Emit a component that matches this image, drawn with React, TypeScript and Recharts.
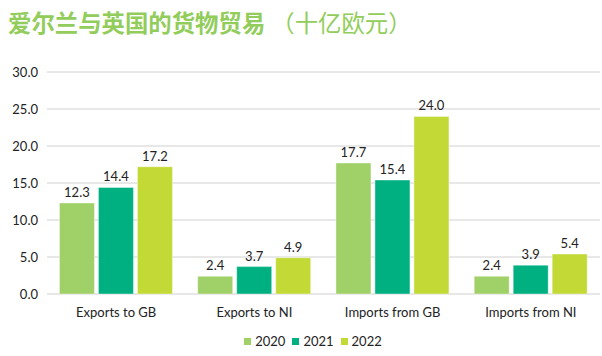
import React from "react";
import { BarChart, Bar, XAxis, YAxis, CartesianGrid, Legend, LabelList } from "recharts";

const categories = ["Exports to GB", "Exports to NI", "Imports from GB", "Imports from NI"];
const values2020 = [12.3, 2.4, 17.7, 2.4];
const values2021 = [14.4, 3.7, 15.4, 3.9];
const values2022 = [17.2, 4.9, 24.0, 5.4];
const yTicks = [0, 5, 10, 15, 20, 25, 30];
const seriesNames = ["2020", "2021", "2022"];
const colors = ["#A0D068", "#00B080", "#C3D936"];

const data = categories.map((c, i) => ({
  name: c,
  "2020": values2020[i],
  "2021": values2021[i],
  "2022": values2022[i],
}));

const font = "Lato, 'Open Sans', sans-serif";

function LegendContent() {
  return (
    <div style={{ display: "flex", justifyContent: "center", paddingTop: 5, paddingLeft: 26, fontFamily: font, fontSize: 13, color: "#222" }}>
      {seriesNames.map((s, i) => (
        <div key={s} style={{ display: "flex", alignItems: "center", marginRight: i < 2 ? 7 : 0 }}>
          <div style={{ width: 7, height: 7, background: colors[i], marginRight: 4 }} />
          <span>{s}</span>
        </div>
      ))}
    </div>
  );
}

export default function App() {
  return (
    <div style={{ position: "absolute", left: 0, top: 0, width: 602, height: 356, background: "#fff", fontFamily: font }}>
      <div
        style={{
          position: "absolute",
          left: 8,
          top: 6,
          fontSize: 23.4,
          color: "#92CD5C",
          fontFamily: "'Noto Sans CJK SC', sans-serif",
          whiteSpace: "nowrap",
          lineHeight: "32px",
        }}
      >
        <span style={{ fontWeight: 700 }}>爱尔兰与英国的货物贸易</span>
        <span style={{ fontWeight: 400, marginLeft: 6 }}>（十亿欧元）</span>
      </div>
      <BarChart
        width={602}
        height={356}
        data={data}
        margin={{ top: 72, right: 2, bottom: 0, left: 0 }}
        barCategoryGap="9%"
        barGap={4}
      >
        <CartesianGrid vertical={false} stroke="#D0D0D0" strokeWidth={1} />
        <XAxis
          dataKey="name"
          axisLine={false}
          tickLine={false}
          tick={{ fill: "#222", fontSize: 13, fontFamily: font }}
          tickMargin={8}
          height={34}
          interval={0}
        />
        <YAxis
          domain={[0, 30]}
          ticks={yTicks}
          axisLine={false}
          tickLine={false}
          tickSize={0}
          tickMargin={9}
          width={47}
          tickFormatter={(v: number) => v.toFixed(1)}
          tick={{ fill: "#222", fontSize: 13, fontFamily: font }}
          interval={0}
        />
        <Legend verticalAlign="bottom" align="center" height={28} content={<LegendContent />} />
        {seriesNames.map((s, i) => (
          <Bar key={s} dataKey={s} fill={colors[i]} isAnimationActive={false} stroke="#ffffff" strokeOpacity={0.4} strokeWidth={1}>
            <LabelList
              dataKey={s}
              position="top"
              offset={6}
              formatter={(v: number) => v.toFixed(1)}
              style={{ fill: "#222", fontSize: 13, fontFamily: font }}
            />
          </Bar>
        ))}
      </BarChart>
    </div>
  );
}
